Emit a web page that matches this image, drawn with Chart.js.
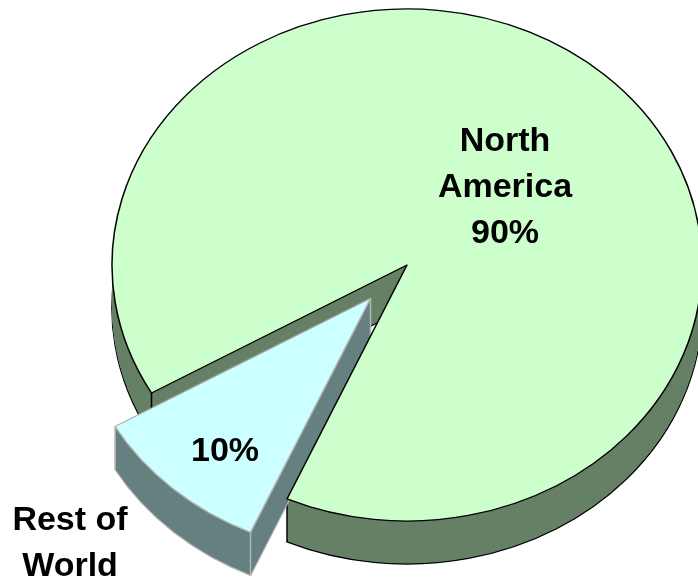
<!DOCTYPE html>
<html>
<head>
<meta charset="utf-8">
<title>Share by region</title>
<script src="https://cdn.jsdelivr.net/npm/chart.js@4"></script>
<style>
html, body { margin: 0; padding: 0; background: #fff; overflow: hidden; }
#wrap { position: relative; width: 698px; height: 577px; }
</style>
</head>
<body>
<div id="wrap"><canvas id="pie"></canvas></div>
<script>
const categories = ['North America', 'Rest of World'];
const shares = [90, 10];
const nameLines = [['North', 'America'], ['Rest of', 'World']];
const topColors = ['#ccffcc', '#ccffff'];
const wallColors = ['#668066', '#668080'];
const edgeColors = ['#000000', '#b4b4b4'];
const edgeWidths = [1.5, 1.5];

const TILT = 0.868;
const DEPTH = 43;
// how far the small slice is pulled out of the pie
const PULL_X = -36.5;
const PULL_Y = 33.5;

function arcOptions(fill, stroke, width) {
    return {
        backgroundColor: fill,
        borderColor: stroke,
        borderWidth: width,
        borderAlign: 'center',
        borderJoinStyle: 'round',
        borderDash: [],
        borderDashOffset: 0,
        offset: 0,
        spacing: 0,
        circular: true
    };
}

// draw one slice squashed into an ellipse, pushed down by dy
function drawLayer(ctx, el, i, dy, fill, stroke, width) {
    const px = i === 1 ? PULL_X : 0;
    const py = i === 1 ? PULL_Y : 0;
    ctx.save();
    ctx.translate(el.x + px, el.y + py + dy);
    ctx.scale(1, TILT);
    ctx.translate(-el.x, -el.y);
    const saved = el.options;
    el.options = arcOptions(fill, stroke, width);
    el.draw(ctx);
    el.options = saved;
    ctx.restore();
}

// the upright edges where a slice's wall turns a corner
function drawUprights(ctx, el, i) {
    const ox = el.x + (i === 1 ? PULL_X : 0);
    const oy = el.y + (i === 1 ? PULL_Y : 0);
    const corners = [[ox, oy]];
    [el.startAngle, el.endAngle].forEach(a => {
        corners.push([ox + Math.cos(a) * el.outerRadius, oy + Math.sin(a) * el.outerRadius * TILT]);
    });
    ctx.save();
    ctx.strokeStyle = edgeColors[i];
    ctx.lineWidth = edgeWidths[i];
    ctx.beginPath();
    corners.forEach((c, n) => {
        if (n === 0 && i === 0) return;
        ctx.moveTo(c[0], c[1]);
        ctx.lineTo(c[0], c[1] + DEPTH);
    });
    ctx.stroke();
    ctx.restore();
}

const tiltedPie = {
    id: 'tiltedPie',
    beforeDatasetsDraw(chart) {
        const ctx = chart.ctx;
        const arcs = chart.getDatasetMeta(0).data;
        // walls first, so the big slice's top can cover the small slice's wall
        arcs.forEach((el, i) => {
            drawLayer(ctx, el, i, DEPTH, wallColors[i], edgeColors[i], edgeWidths[i]);
            for (let d = DEPTH - 1; d > 0; d--) {
                drawLayer(ctx, el, i, d, wallColors[i], wallColors[i], 0);
            }
            drawUprights(ctx, el, i);
        });
        arcs.forEach((el, i) => {
            drawLayer(ctx, el, i, 0, topColors[i], edgeColors[i], edgeWidths[i]);
        });
        return false;
    },
    afterDraw(chart) {
        const ctx = chart.ctx;
        ctx.save();
        ctx.fillStyle = '#000';
        ctx.font = 'bold 34px "Liberation Sans", Arial, sans-serif';
        ctx.textAlign = 'center';
        ctx.textBaseline = 'middle';
        nameLines[0].concat(shares[0] + '%').forEach((t, n) => ctx.fillText(t, 505, 142 + n * 46));
        nameLines[1].forEach((t, n) => ctx.fillText(t, 70, 521 + n * 46));
        ctx.fillText(shares[1] + '%', 225, 452);
        ctx.restore();
    }
};

new Chart(document.getElementById('pie'), {
    type: 'pie',
    data: {
        labels: categories,
        datasets: [{
            data: shares,
            backgroundColor: topColors,
            borderWidth: 0
        }]
    },
    options: {
        responsive: true,
        maintainAspectRatio: false,
        animation: false,
        events: [],
        rotation: 240,
        radius: 295,
        layout: { padding: { left: 116, right: 0, top: 0, bottom: 47 } },
        plugins: { legend: { display: false }, tooltip: { enabled: false } }
    },
    plugins: [tiltedPie]
});
</script>
</body>
</html>
